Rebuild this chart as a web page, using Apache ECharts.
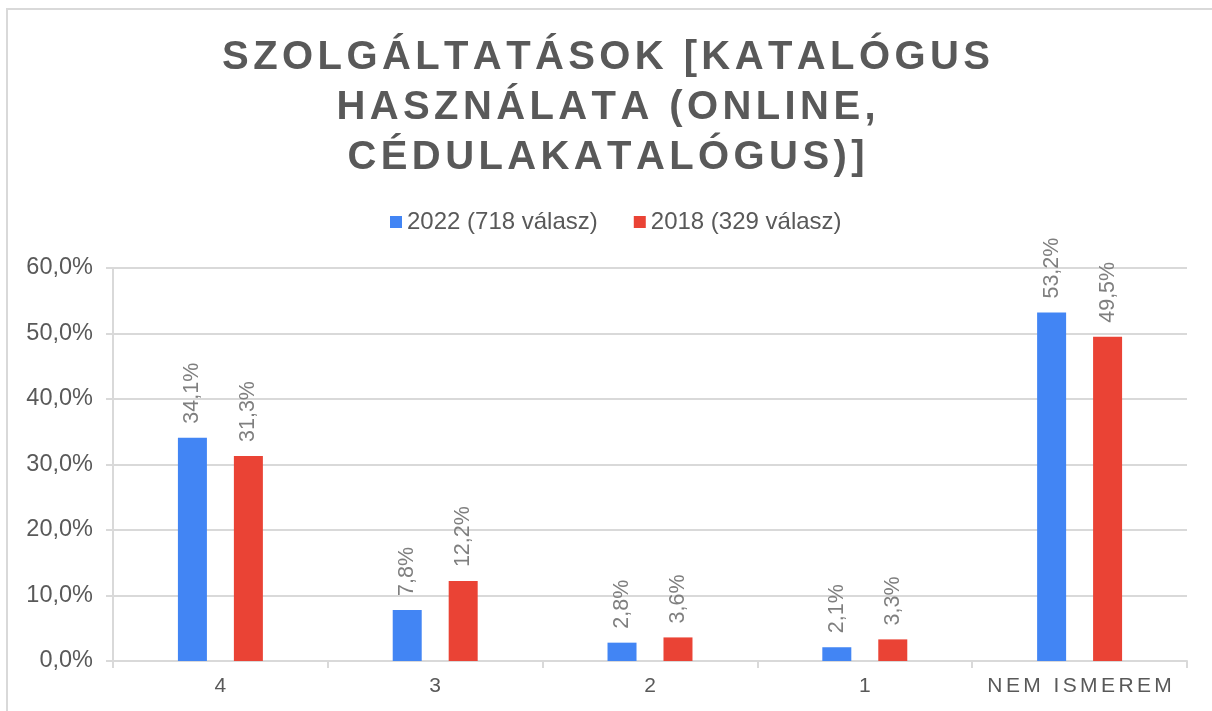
<!DOCTYPE html>
<html>
<head>
<meta charset="utf-8">
<script src="https://cdn.jsdelivr.net/npm/echarts@6/dist/echarts.min.js"></script>
<style>
  html, body { margin: 0; padding: 0; background: #fff; }
  #chart { width: 1212px; height: 711px; }
</style>
</head>
<body>
<div id="chart"></div>
<script>
// adatok
var categories = ["4", "3", "2", "1", "NEM ISMEREM"];
var values2022 = [34.1, 7.8, 2.8, 2.1, 53.2];
var values2018 = [31.3, 12.2, 3.6, 3.3, 49.5];
var seriesNames = ["2022 (718 válasz)", "2018 (329 válasz)"];
var titleLines = ["SZOLGÁLTATÁSOK [KATALÓGUS", "HASZNÁLATA (ONLINE,", "CÉDULAKATALÓGUS)]"];

var FONT = "Liberation Sans, Arial, sans-serif";
var chart = echarts.init(document.getElementById("chart"));

function pct(v, digits) {
  return v.toFixed(digits).replace(".", ",") + "%";
}

// betűköz: minden karakter külön rich elem, két oldali paddinggel
function spaced(str, key) {
  return str.split("").map(function (c) { return "{" + key + "|" + c + "}"; }).join("");
}

var labelOpt = {
  show: true,
  position: "top",
  rotate: 90,
  align: "left",
  verticalAlign: "middle",
  distance: 14,
  color: "#7f7f7f",
  fontSize: 21.5,
  fontFamily: FONT,
  formatter: function (p) { return pct(p.value, 1); }
};

var option = {
  animation: false,
  textStyle: { fontFamily: FONT },
  graphic: [{
    type: "rect",
    shape: { x: 7, y: 9, width: 1220, height: 720 },
    style: { fill: "none", stroke: "#d9d9d9", lineWidth: 2 },
    silent: true
  }],
  title: {
    text: titleLines.map(function (l) { return spaced(l, "c"); }).join("\n"),
    left: "center",
    top: 28,
    textStyle: {
      rich: {
        c: {
          color: "#595959",
          fontSize: 40,
          fontWeight: "bold",
          lineHeight: 50,
          fontFamily: FONT,
          padding: [0, 2.2, 0, 2.2]
        }
      }
    }
  },
  legend: {
    top: 205,
    left: 385,
    itemWidth: 12,
    itemHeight: 12,
    itemGap: 36,
    icon: "rect",
    textStyle: { color: "#595959", fontSize: 24, fontFamily: FONT },
    data: seriesNames
  },
  grid: { left: 113, right: 25, top: 268, bottom: 50 },
  xAxis: {
    type: "category",
    data: categories,
    axisLine: { lineStyle: { color: "#d9d9d9", width: 2 } },
    axisTick: { show: true, length: 7, lineStyle: { color: "#d9d9d9", width: 2 } },
    axisLabel: {
      interval: 0,
      margin: 15,
      formatter: function (v) { return spaced(v, "x"); },
      rich: {
        x: { color: "#595959", fontSize: 21, fontFamily: FONT, padding: [0, 1.7, 0, 1.7] }
      }
    }
  },
  yAxis: {
    type: "value",
    min: 0,
    max: 60,
    interval: 10,
    axisLine: { show: true, lineStyle: { color: "#d9d9d9", width: 2 } },
    axisTick: { show: true, length: 7, lineStyle: { color: "#d9d9d9", width: 2 } },
    splitLine: { lineStyle: { color: "#d9d9d9", width: 2 } },
    axisLabel: {
      color: "#595959",
      fontSize: 23.5,
      margin: 20,
      fontFamily: FONT,
      formatter: function (v) { return pct(v, 1); }
    }
  },
  series: [
    {
      name: seriesNames[0],
      type: "bar",
      data: values2022,
      barWidth: 29,
      barGap: "93%",
      itemStyle: { color: "#4285f4" },
      label: labelOpt
    },
    {
      name: seriesNames[1],
      type: "bar",
      data: values2018,
      barWidth: 29,
      itemStyle: { color: "#ea4335" },
      label: labelOpt
    }
  ]
};

chart.setOption(option);
</script>
</body>
</html>
